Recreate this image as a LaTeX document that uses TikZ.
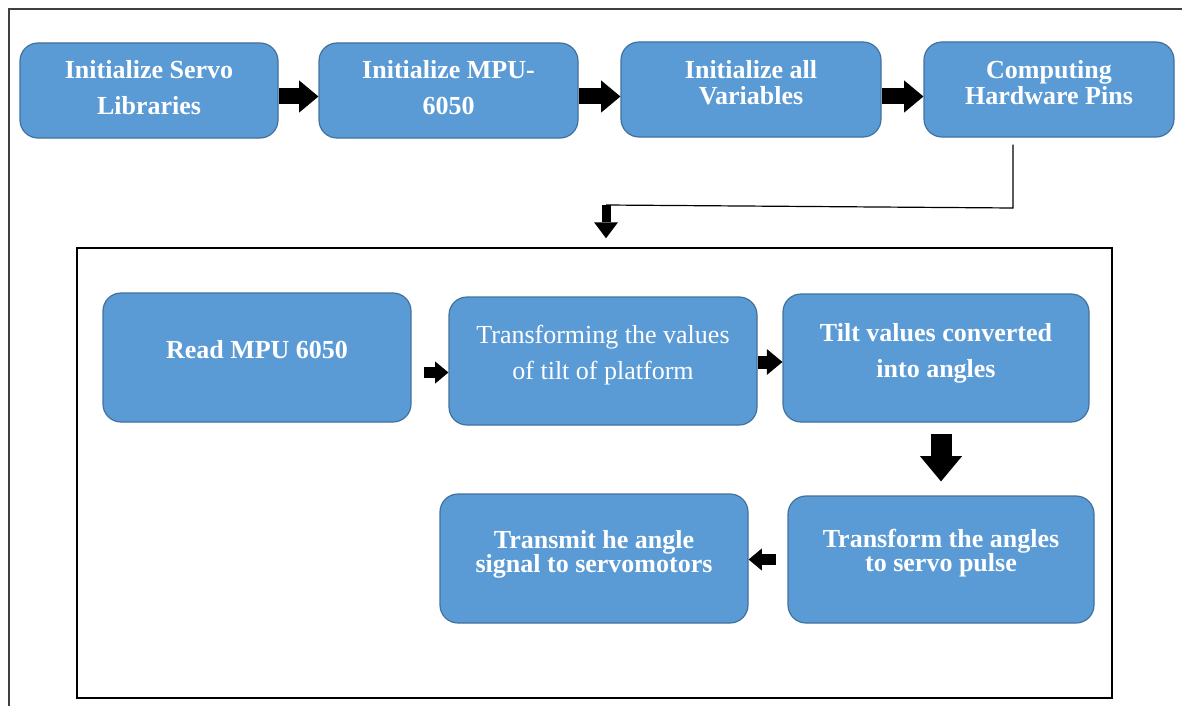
\documentclass[tikz,border=0pt]{standalone}
\usepackage{fontspec}
\setmainfont{Liberation Serif}
\usepackage{xcolor}
\usetikzlibrary{arrows.meta}
\definecolor{stageblue}{RGB}{91,155,213}
\definecolor{stageedge}{RGB}{65,113,156}

\begin{document}
\begin{tikzpicture}[x=1pt, y=-1pt,
    stage/.style={draw=stageedge, line width=1.2pt, fill=stageblue, rounded corners=18pt,
        text=white, align=center, inner sep=0pt, font=\bfseries\fontsize{26}{36}\selectfont},
    blockarrow/.style={line width=#1, -{Triangle[length=1.2*#1, width=2*#1, line width=0pt]}},
    wire/.style={line width=1.2pt}]
                \useasboundingbox (0,0) rectangle (1182,706);
                % Outer frame
                \draw[line width=1.5pt, black!75] (9,706) -- (9,9) -- (1182,9);

                % Setup row
                \node[stage, minimum width=258, minimum height=95, text depth=7pt] (servo) at (149,90.5) {Initialize Servo\\Libraries};
                \node[stage, minimum width=259, minimum height=95, text depth=7pt] (mpu) at (448.5,90.5) {Initialize MPU-\\6050};
                \node[stage, minimum width=260, minimum height=95, text depth=15pt, font=\bfseries\fontsize{26}{26}\selectfont] (vars) at (751,89.5) {Initialize all\\Variables};
                \node[stage, minimum width=250, minimum height=95, text depth=15pt, font=\bfseries\fontsize{26}{26}\selectfont] (pins) at (1049,89.5) {Computing\\Hardware Pins};

                \draw[blockarrow=16pt] ([yshift=-6pt]servo.east) -- ([yshift=-6pt]servo.east -| mpu.west);
                \draw[blockarrow=16pt] ([yshift=-6pt]mpu.east) -- ([yshift=-6pt]mpu.east -| vars.west);
                \draw[blockarrow=16pt] ([yshift=-7pt]vars.east) -- ([yshift=-7pt]vars.east -| pins.west);

                % Main loop
                \node[draw, line width=1.5pt, minimum width=1035, minimum height=450, inner sep=0pt] (loop) at (594.5,473) {};

                \node[stage, minimum width=308, minimum height=129, text depth=17pt] (read) at (257,357.5) {Read MPU 6050};
                \node[stage, minimum width=308, minimum height=128, text depth=18pt, font=\fontsize{26}{36}\selectfont] (tilt) at (603,361) {Transforming the values\\of tilt of platform};
                \node[stage, minimum width=306, minimum height=128, text depth=15pt] (angles) at (936,358) {Tilt values converted\\into angles};
                \node[stage, minimum width=306, minimum height=127, text depth=18pt, font=\bfseries\fontsize{26}{24}\selectfont] (pulse) at (941,559.5) {Transform the angles\\to servo pulse};
                \node[stage, minimum width=308, minimum height=129, text depth=15pt, font=\bfseries\fontsize{26}{24}\selectfont] (send) at (594,558.5) {Transmit he angle\\signal to servomotors};

                \draw[blockarrow=11pt, shorten <=12pt] ([yshift=-15pt]read.east) -- ([yshift=-15pt]read.east -| tilt.west);
                \draw[blockarrow=13pt] ([yshift=-1pt]tilt.east) -- ([yshift=-1pt]tilt.east -| angles.west);
                \draw[blockarrow=21pt, shorten <=11pt, shorten >=14pt] (angles.south -| pulse) -- (pulse.north);
                \draw[blockarrow=11pt, shorten <=11pt] (pulse.west) -- (pulse.west -| send.east);

                % Link from setup to loop
                \coordinate (turn) at (1013,208);
                \coordinate (drop) at (606,205);
                \draw[wire] ([yshift=-7pt]pins.south -| turn) -- (turn) -- (drop);
                \draw[line width=9pt, -{Triangle[length=16pt, width=24pt, line width=0pt]}, shorten >=9pt] (drop) -- (drop |- loop.north);
            \end{tikzpicture}
\end{document}
